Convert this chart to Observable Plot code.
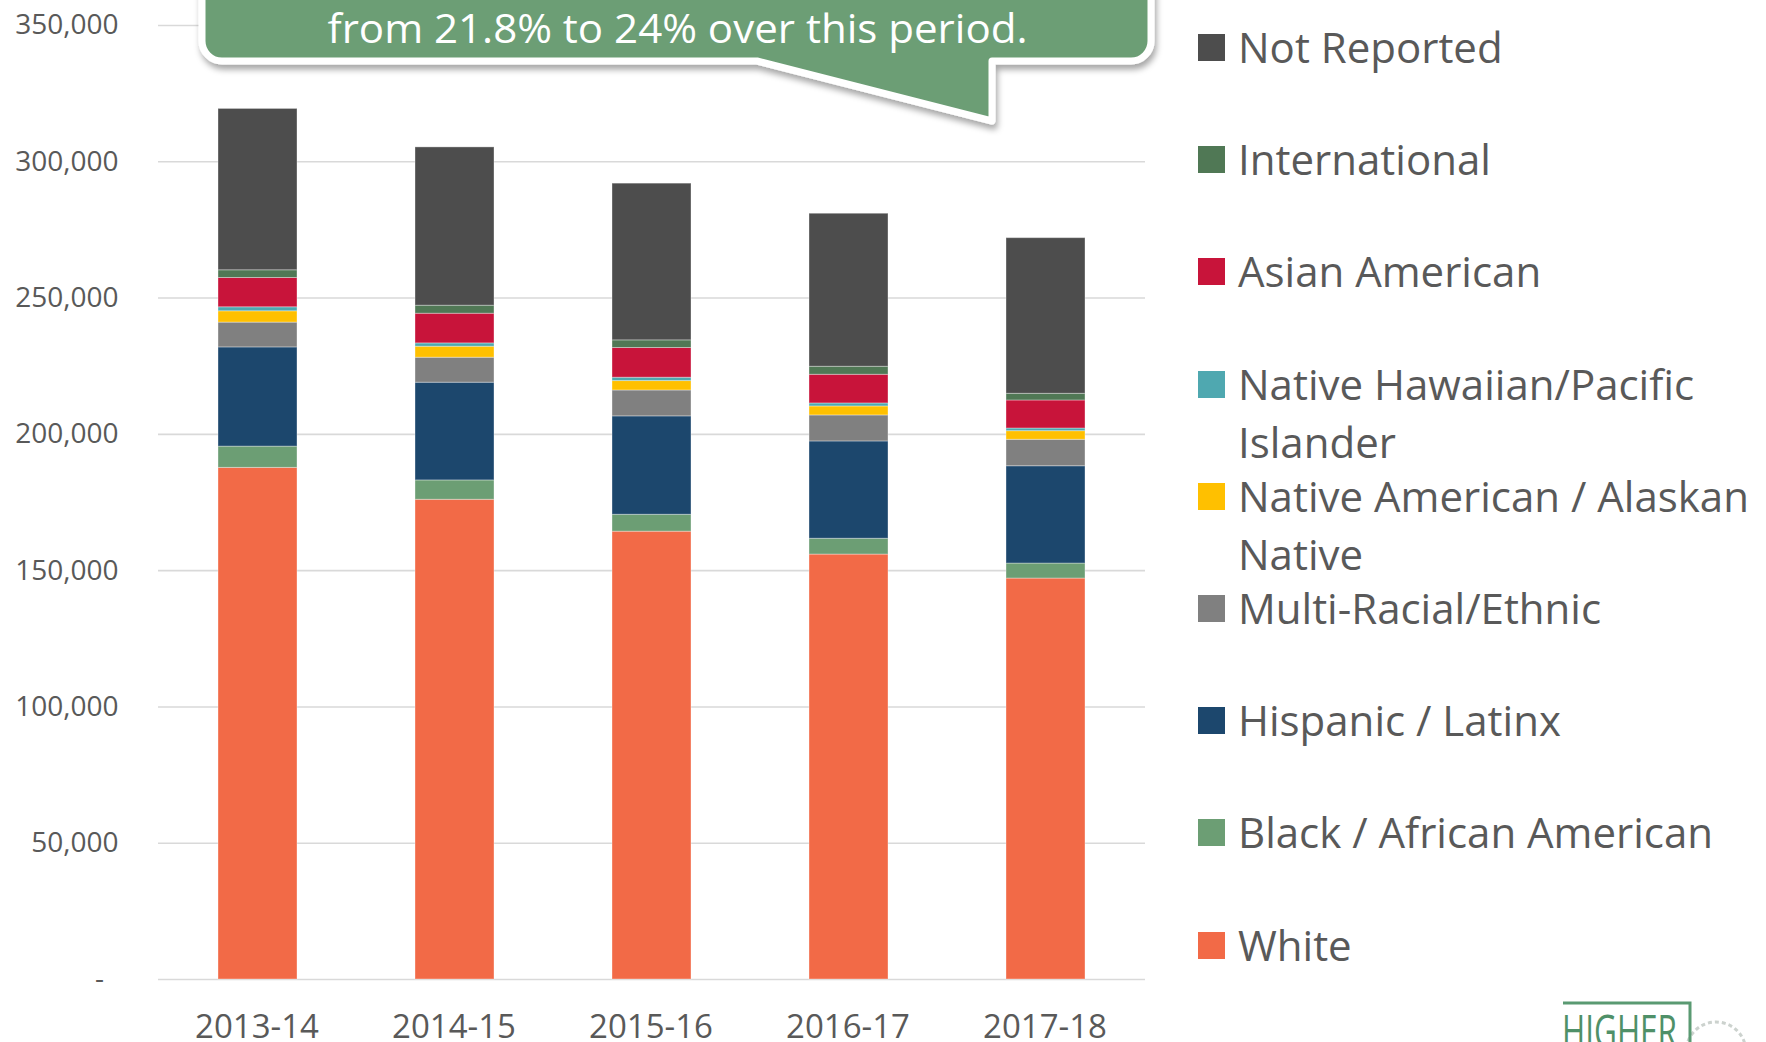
<!DOCTYPE html>
<html><head><meta charset="utf-8">
<script src="https://cdn.jsdelivr.net/npm/d3@7"></script>
<script src="https://cdn.jsdelivr.net/npm/@observablehq/plot@0.6"></script>
<style>
html,body{margin:0;padding:0;background:#fff;}
#wrap{position:relative;width:1766px;height:1042px;overflow:hidden;font-family:"Open Sans",sans-serif;}
#wrap svg{position:absolute;left:0;top:0;overflow:visible;}
.legend-item{position:absolute;left:1198px;display:flex;align-items:flex-start;color:#595959;font-size:42px;line-height:58px;white-space:nowrap;}
.sw{width:27px;height:27px;margin-top:16px;margin-right:13px;flex:none;}
</style></head><body><div id="wrap"></div>
<script>
// ---- data ----
const years = ["2013-14", "2014-15", "2015-16", "2016-17", "2017-18"];
const groups = ["White", "Black / African American", "Hispanic / Latinx", "Multi-Racial/Ethnic",
  "Native American / Alaskan Native", "Native Hawaiian/Pacific Islander", "Asian American",
  "International", "Not Reported"];
const colors = ["#f26a47", "#6c9e74", "#1c476d", "#808080", "#ffc000", "#4fa8b0", "#c8143a", "#507855", "#4d4d4d"];
const white       = [187700, 176000, 164300, 155900, 147100];
const black       = [7800, 7100, 6200, 5800, 5500];
const hispanic    = [36400, 35850, 36100, 35700, 35700];
const multi       = [9100, 9170, 9500, 9540, 9700];
const nativeAm    = [4150, 4030, 3450, 3300, 3170];
const nhpi        = [1470, 1220, 1230, 1100, 980];
const asian       = [10750, 10890, 10900, 10520, 10280];
const intl        = [2820, 2940, 2800, 2940, 2450];
const notReported = [59200, 58080, 57500, 56140, 57100];
const yTicks = [0, 50000, 100000, 150000, 200000, 250000, 300000, 350000];
const legendOrder = ["Not Reported", "International", "Asian American", "Native Hawaiian/Pacific Islander",
  "Native American / Alaskan Native", "Multi-Racial/Ethnic", "Hispanic / Latinx", "Black / African American", "White"];
const legendLines = [["Not Reported"], ["International"], ["Asian American"], ["Native Hawaiian/Pacific", "Islander"],
  ["Native American / Alaskan", "Native"], ["Multi-Racial/Ethnic"], ["Hispanic / Latinx"], ["Black / African American"], ["White"]];
const calloutText = "from 21.8% to 24% over this period.";

const series = [white, black, hispanic, multi, nativeAm, nhpi, asian, intl, notReported];
const rows = [];
groups.forEach((g, gi) => years.forEach((y, yi) => rows.push({year: y, group: g, value: series[gi][yi]})));

const chart = Plot.plot({
  width: 1766, height: 1042,
  marginLeft: 158, marginRight: 621, marginTop: 25, marginBottom: 63,
  style: {fontFamily: '"Open Sans", sans-serif', background: "transparent", color: "#595959"},
  x: {domain: years, paddingInner: 0.6, paddingOuter: 0.3, label: null},
  y: {domain: [0, 350000], label: null},
  color: {domain: groups, range: colors},
  marks: [
    Plot.ruleY(yTicks, {stroke: "#d9d9d9", strokeWidth: 1.6}),
    Plot.barY(rows, {x: "year", y: "value", fill: "group", order: groups,
      stroke: "#ffffff", strokeOpacity: 0.35, strokeWidth: 1}),
    Plot.axisY(yTicks, {tickSize: 0, tickPadding: 40, fontSize: 28, fill: "#595959", label: null,
      tickFormat: d => d === 0 ? "-\u00a0\u00a0" : d3.format(",")(d)}),
    Plot.axisX({tickSize: 0, tickPadding: 35, fontSize: 33, fill: "#595959", label: null, dx: -1})
  ]
});
const wrap = document.getElementById("wrap");
wrap.appendChild(chart);

// ---- callout ----
const svg = d3.select(chart);
const defs = svg.append("defs");
const f = defs.append("filter").attr("id", "shadow").attr("x", "-10%").attr("y", "-50%").attr("width", "120%").attr("height", "200%");
f.append("feDropShadow").attr("dx", 2).attr("dy", 5).attr("stdDeviation", 3).attr("flood-color", "#000").attr("flood-opacity", 0.35);
const L = 202, R = 1151, B = 61, r = 20;
const path = `M${L},-30 V${B - r} A${r},${r} 0 0 0 ${L + r},${B} H757 L992,121 V${B} H${R - r} A${r},${r} 0 0 0 ${R},${B - r} V-30 Z`;
svg.append("path").attr("d", path).attr("fill", "#6c9e75").attr("stroke", "#fff").attr("stroke-width", 7)
  .attr("stroke-linejoin", "round").attr("filter", "url(#shadow)");
svg.append("text").attr("x", (L + R) / 2 + 1).attr("y", 43).attr("text-anchor", "middle")
  .attr("fill", "#fff").attr("font-size", 40).attr("font-family", '"Open Sans", sans-serif')
  .attr("textLength", 700).attr("lengthAdjust", "spacingAndGlyphs").text(calloutText);

// ---- logo fragment ----
svg.append("circle").attr("cx", 1716).attr("cy", 1052).attr("r", 30).attr("fill", "none")
  .attr("stroke", "#9aa59e").attr("stroke-width", 3).attr("stroke-opacity", 0.5).attr("stroke-dasharray", "4 3");
svg.append("path").attr("d", "M1563,1003 H1690 V1042").attr("fill", "none").attr("stroke", "#5a9a72").attr("stroke-width", 3);
svg.append("text").attr("x", 1562).attr("y", 1048).attr("text-anchor", "start").attr("fill", "#4f9068").attr("font-size", 46)
  .attr("font-family", '"Liberation Sans Narrow", "Open Sans", sans-serif')
  .attr("textLength", 115).attr("lengthAdjust", "spacingAndGlyphs").text("HIGHER");

// ---- legend ----
legendOrder.forEach((g, i) => {
  const item = document.createElement("div");
  item.className = "legend-item";
  item.style.top = (18 + i * 112.2) + "px";
  const sw = document.createElement("div");
  sw.className = "sw";
  sw.style.background = colors[groups.indexOf(g)];
  const txt = document.createElement("div");
  txt.innerHTML = legendLines[i].join("<br>");
  item.appendChild(sw); item.appendChild(txt);
  wrap.appendChild(item);
});
</script></body></html>
